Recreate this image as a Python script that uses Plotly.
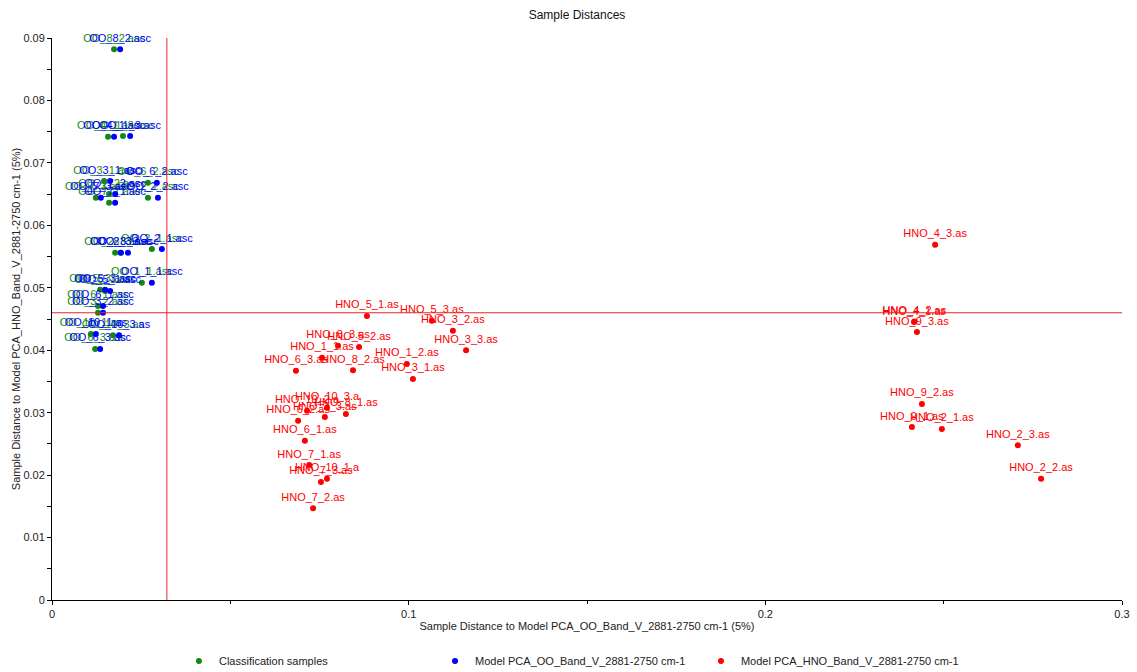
import plotly.graph_objects as go

# --- OO samples: distances to both PCA models ---------------------------------
oo_names = [
    "OO_8_2.asc", "OO_4_1.asc", "OO_1_3.asc", "OO_3_1.asc", "OO_6_2.asc",
    "OO_7_2.asc", "OO_7_3.asc", "OO_7_1.asc", "OO_2_2.asc", "OO_2_3.asc",
    "OO_8_3.asc", "OO_2_1.asc", "OO_1_1.asc", "OO_5_3.asc", "OO_5_1.asc",
    "OO_6_1.asc", "OO_3_2.asc", "OO_10_1.as", "OO_10_3.as", "OO_6_3.asc",
]
# distance to the HNO model (shared by both OO series)
oo_dist_hno = [
    0.0882, 0.0742, 0.0743, 0.0671, 0.0668,
    0.0650, 0.0644, 0.0636, 0.0644, 0.0556,
    0.0556, 0.0562, 0.0508, 0.0497, 0.0495,
    0.0471, 0.0460, 0.0426, 0.0424, 0.0402,
]
# classification-sample distance to the OO model
cls_dist_oo = [
    0.0174, 0.0157, 0.0199, 0.0146, 0.0269,
    0.0160, 0.0123, 0.0160, 0.0269, 0.0177,
    0.0193, 0.0280, 0.0252, 0.0135, 0.0149,
    0.0129, 0.0129, 0.0109, 0.0171, 0.0121,
]
# model-sample distance to the OO model
mod_dist_oo = [
    0.0191, 0.0174, 0.0219, 0.0163, 0.0294,
    0.0177, 0.0137, 0.0177, 0.0297, 0.0193,
    0.0213, 0.0308, 0.0280, 0.0149, 0.0163,
    0.0143, 0.0143, 0.0123, 0.0188, 0.0135,
]

# --- HNO model samples ----------------------------------------------------------
hno_names = [
    "HNO_4_3.as", "HNO_4_1.as", "HNO_4_2.as", "HNO_9_3.as", "HNO_9_2.as",
    "HNO_9_1.as", "HNO_2_1.as", "HNO_2_3.as", "HNO_2_2.as",
    "HNO_5_1.as", "HNO_5_3.as", "HNO_3_2.as", "HNO_3_3.as", "HNO_8_3.as",
    "HNO_5_2.as", "HNO_1_1.as", "HNO_8_2.as", "HNO_6_3.as", "HNO_1_2.as",
    "HNO_3_1.as", "HNO_10_3.a", "HNO_10_2.a", "HNO_8_1.as", "HNO_1_3.as",
    "HNO_6_2.as", "HNO_6_1.as", "HNO_7_1.as", "HNO_10_1.a", "HNO_7_3.as",
    "HNO_7_2.as",
]
hno_dist_oo = [
    0.2476, 0.2417, 0.2418, 0.2425, 0.2439,
    0.2411, 0.2495, 0.2708, 0.2773,
    0.0883, 0.1065, 0.1124, 0.1161, 0.0802,
    0.0861, 0.0757, 0.0844, 0.0684, 0.0995,
    0.1012, 0.0771, 0.0715, 0.0824, 0.0765,
    0.0690, 0.0709, 0.0721, 0.0771, 0.0754,
    0.0732,
]
hno_dist_hno = [
    0.0569, 0.0445, 0.0446, 0.0429, 0.0314,
    0.0277, 0.0274, 0.0248, 0.0194,
    0.0455, 0.0447, 0.0431, 0.0400, 0.0407,
    0.0405, 0.0388, 0.0368, 0.0367, 0.0378,
    0.0354, 0.0308, 0.0303, 0.0298, 0.0293,
    0.0287, 0.0255, 0.0216, 0.0194, 0.0189,
    0.0147,
]

# critical distances of the two models
limit_oo = 0.0322
limit_hno = 0.0460

series_names = [
    "Classification samples",
    "Model PCA_OO_Band_V_2881-2750 cm-1",
    "Model PCA_HNO_Band_V_2881-2750 cm-1",
]

GREEN = "#108a10"
BLUE = "#0000ff"
RED = "#ff0000"
FONT = "Arial, Liberation Sans, sans-serif"

fig = go.Figure()

def add_series(x, y, names, color, label, legend):
    fig.add_trace(go.Scatter(
        x=x, y=y, text=names, name=label, legend=legend,
        mode="markers+text", textposition="top center",
        marker=dict(color=color, size=6),
        textfont=dict(color=color, size=11, family=FONT),
        cliponaxis=False, hoverinfo="text+x+y",
    ))

add_series(cls_dist_oo, oo_dist_hno, oo_names, GREEN, series_names[0], "legend")
add_series(mod_dist_oo, oo_dist_hno, oo_names, BLUE, series_names[1], "legend2")
add_series(hno_dist_oo, hno_dist_hno, hno_names, RED, series_names[2], "legend3")

# model limit lines
fig.add_shape(type="line", xref="x", yref="paper", x0=limit_oo, x1=limit_oo,
              y0=0, y1=1, line=dict(color="#e8262b", width=1))
fig.add_shape(type="line", xref="paper", yref="y", x0=0, x1=1,
              y0=limit_hno, y1=limit_hno, line=dict(color="#e8262b", width=1))

axis_common = dict(
    showgrid=False, zeroline=False, showline=True, linecolor="#000",
    linewidth=1, ticks="outside", ticklen=4, tickcolor="#000",
    tickfont=dict(family=FONT, size=11, color="#222"), automargin=False,
)

legend_common = dict(
    orientation="h", xref="container", yref="container", y=0.0164,
    yanchor="middle", xanchor="left",
    font=dict(family=FONT, size=11, color="#222"), bgcolor="rgba(0,0,0,0)",
)

fig.update_layout(
    width=1137, height=672,
    margin=dict(l=52, r=15, t=38, b=72, autoexpand=False),
    paper_bgcolor="#fff", plot_bgcolor="#fff",
    font=dict(family=FONT, size=11, color="#222"),
    title=dict(text="Sample Distances", x=0.5075, xref="container", y=0.978,
               yanchor="middle", font=dict(family=FONT, size=12, color="#111")),
    xaxis=dict(range=[0, 0.3], dtick=0.1, tickformat="~g",
               minor=dict(dtick=0.05, ticks="outside", ticklen=3, tickcolor="#000"),
               title=dict(text="Sample Distance to Model PCA_OO_Band_V_2881-2750 cm-1 (5%)",
                          font=dict(family=FONT, size=11, color="#222"), standoff=3),
               **axis_common),
    yaxis=dict(range=[0, 0.09], dtick=0.01, tickformat="~g",
               minor=dict(dtick=0.005, ticks="outside", ticklen=4, tickcolor="#000"),
               title=dict(text="Sample Distance to Model PCA_HNO_Band_V_2881-2750 cm-1 (5%)",
                          font=dict(family=FONT, size=11, color="#222"), standoff=0),
               **axis_common),
    legend=dict(x=0.1574, **legend_common),
    legend2=dict(x=0.3826, **legend_common),
    legend3=dict(x=0.6165, **legend_common),
    showlegend=True,
)

fig.write_html("out.html")
